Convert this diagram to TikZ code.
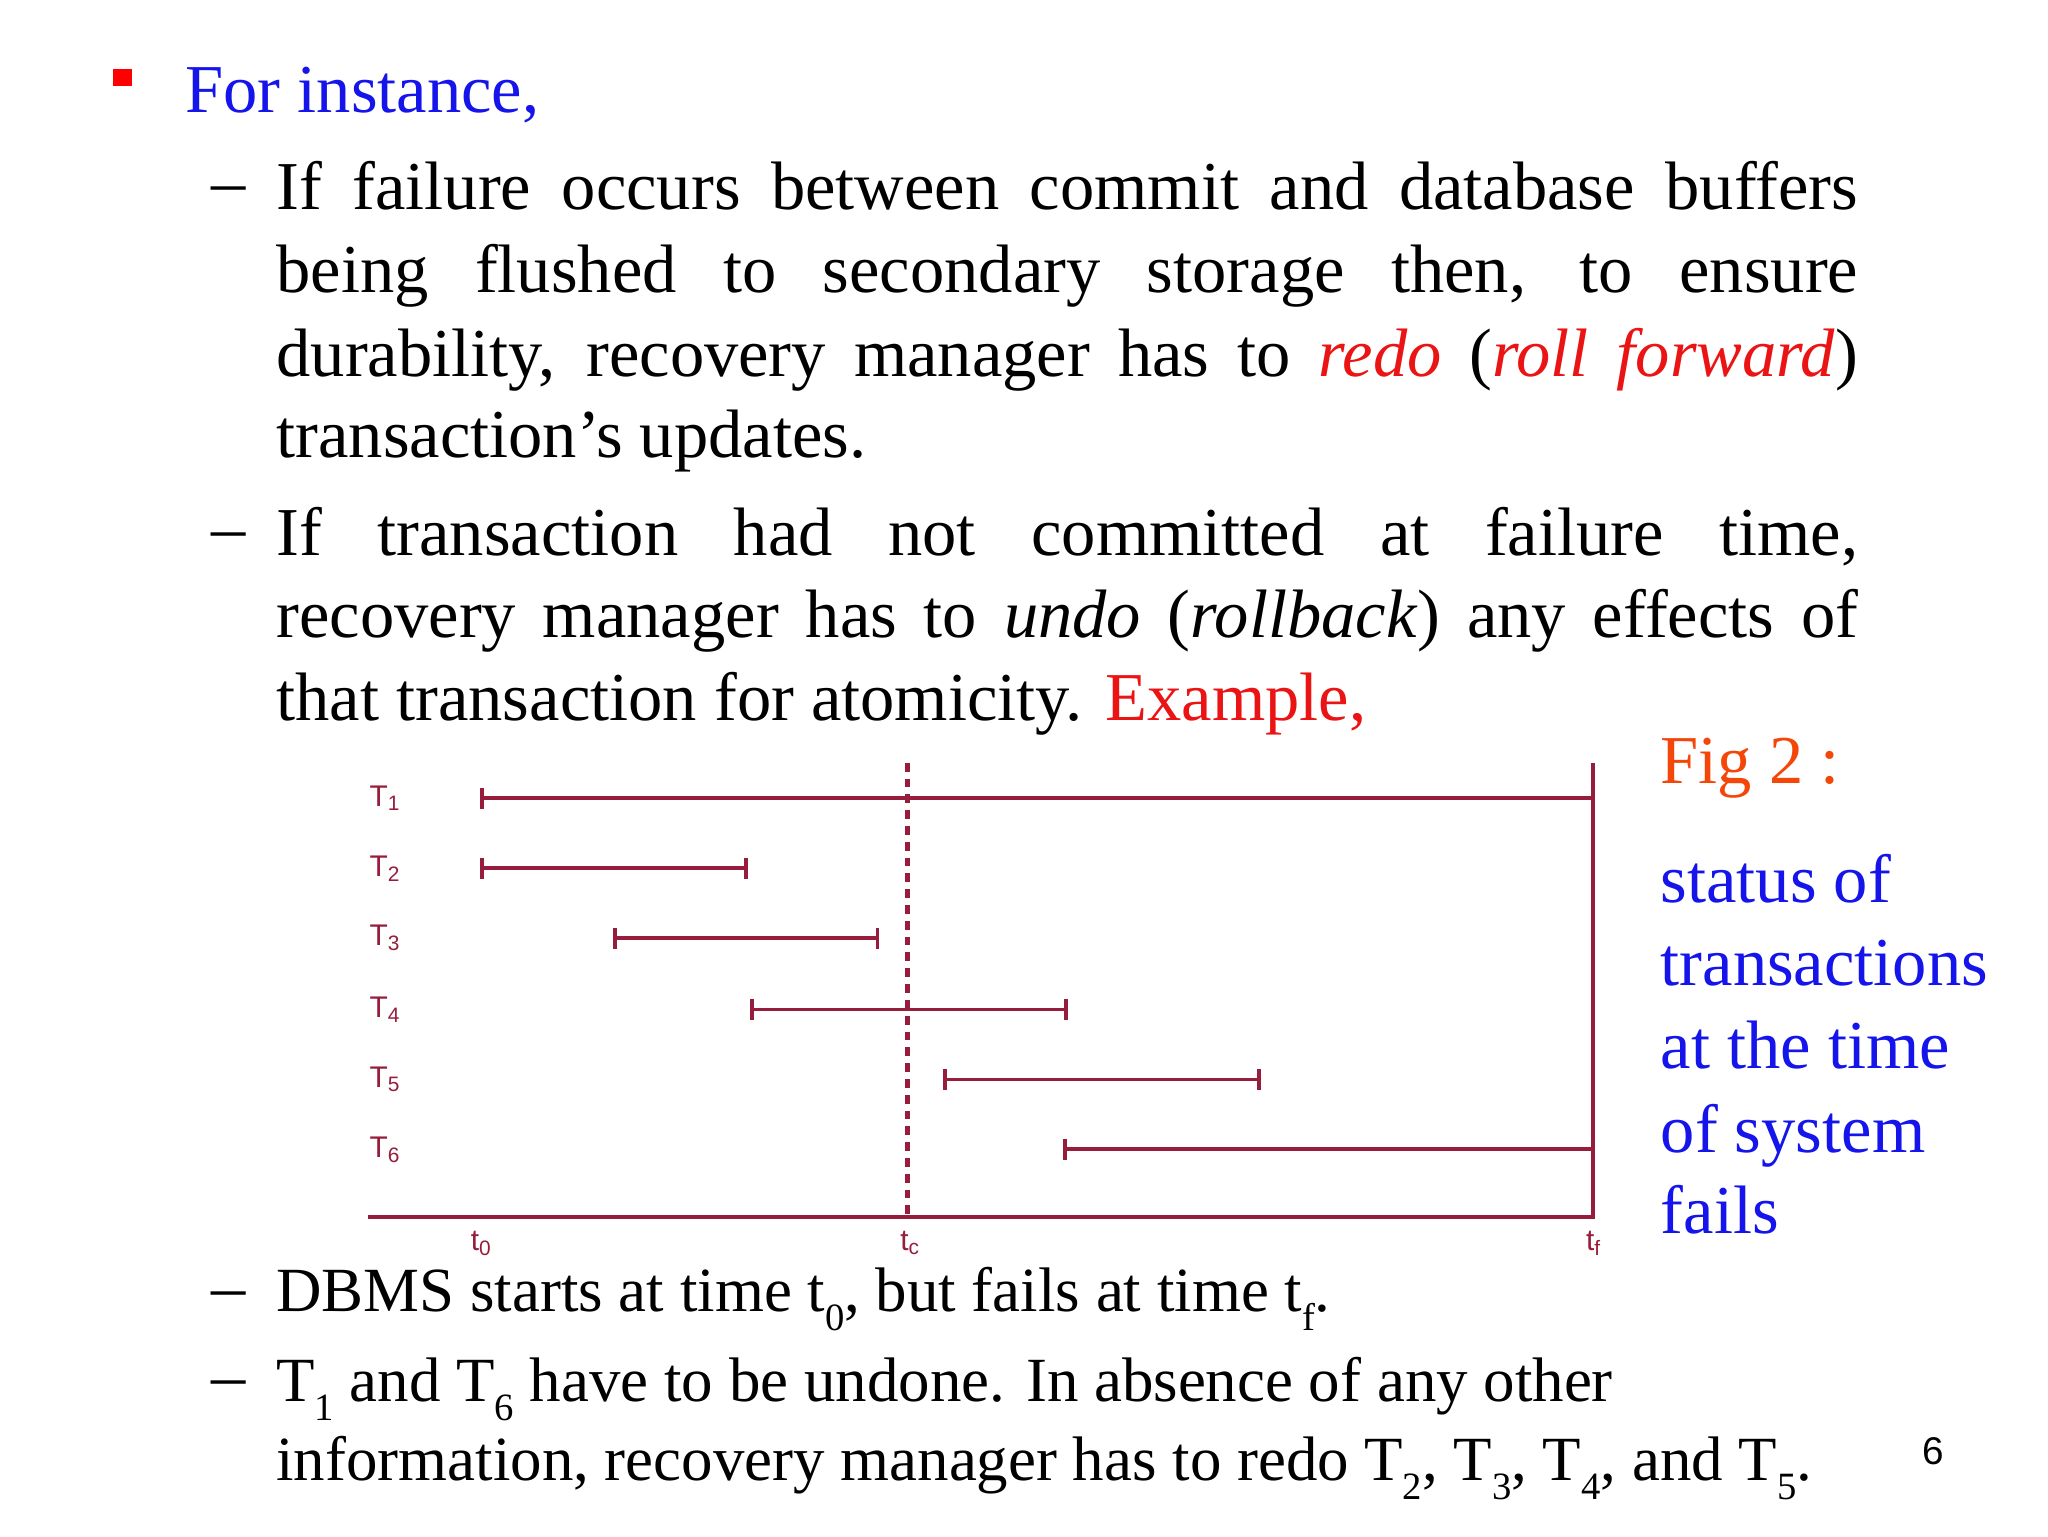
\documentclass[tikz,border=0pt]{standalone}
\usepackage{fontspec}
\setmainfont{Liberation Serif}
\setsansfont{Liberation Sans}
\definecolor{maroon}{RGB}{150,30,60}
\definecolor{myblue}{RGB}{20,20,235}
\definecolor{myred}{RGB}{235,20,20}
\definecolor{myorange}{RGB}{245,70,10}
\newcommand{\jl}[1]{\makebox[15.82cm][s]{#1}}
\newcommand{\sbs}[1]{\raisebox{-0.3em}{\fontsize{11}{12}\selectfont #1}}
\begin{document}
\begin{tikzpicture}[x=0.013196cm,y=-0.013196cm,
  txt/.style={anchor=base west,inner sep=0pt,font=\fontsize{19.5}{23}\selectfont},
  txs/.style={anchor=base west,inner sep=0pt,font=\fontsize{17.9}{21}\selectfont},
  lab/.style={inner sep=0pt,font=\sffamily\fontsize{8.5}{10}\selectfont,text=maroon},
  bar/.style={draw=maroon,line width=1.1pt},
  tick/.style={draw=maroon,line width=1.1pt}]
\useasboundingbox (0,0) rectangle (1552,1164);
\fill[red] (86,52) rectangle (100,65) coordinate (bsq);
\node[txt,text=myblue] (l0) at (140,85) {For instance,};
\foreach \y/\n in {143/d1,405/d2,980/d3,1048/d4}{\node[txt] (\n) at (160,\y+12) {--};}
\node[txt] (a1) at (209,159) {\jl{If failure occurs between commit and database buffers}};
\node[txt] (a2) at (209,222) {\jl{being flushed to secondary storage then, to ensure}};
\node[txt] (a3) at (209,285) {\jl{durability, recovery manager has to \textcolor{myred}{\textit{redo}} (\textcolor{myred}{\textit{roll forward}})}};
\node[txt] (a4) at (209,347) {transaction’s updates.};
\node[txt] (b1) at (209,421) {\jl{If transaction had not committed at failure time,}};
\node[txt] (b2) at (209,483) {\jl{recovery manager has to \textit{undo} (\textit{rollback}) any effects of}};
\node[txt] (b3) at (209,546) {that transaction for atomicity. \textcolor{myred}{Example,}};
\node[txs] (c1) at (209,994) {DBMS starts at time t\sbs{0}, but fails at time t\sbs{f}.};
\node[txs] (c2) at (209,1062) {T\sbs{1} and T\sbs{6} have to be undone. In absence of any other};
\node[txs] (c3) at (209,1122) {information, recovery manager has to redo T\sbs{2}, T\sbs{3}, T\sbs{4}, and T\sbs{5}.};
\node[anchor=base,inner sep=0pt,font=\sffamily\fontsize{11}{13}\selectfont] (pg) at (1465,1110) {6};
% figure caption
\node[txt,text=myorange] (f0) at (1258,594) {Fig 2 :};
\foreach \y/\t [count=\i] in {684/status of,747/transactions,810/at the time,873/of system,935/fails}
  \node[txt,text=myblue] (g\i) at (1258,\y) {\t};
% chart
\coordinate (ax0) at (279,922); \coordinate (ax1) at (1207,922);
\coordinate (vt) at (1207,578);
\draw[bar] (ax0) -- (ax1) -- (vt);
\coordinate (dt) at (688,578); \coordinate (db) at (688,922);
\draw[maroon,line width=1.4pt,dash pattern=on 2.5pt off 2pt] (dt) -- (db);
\foreach \i/\y/\a/\b/\e in {1/605/365/1207/0,2/658/365/565/1,3/711/466/665/1,4/765/570/808/1,5/818/716/954/1,6/871/807/1207/0}{
  \node[lab] (T\i) at (292,\y) {T\textsubscript{\i}};
  \coordinate (s\i) at (\a,\y); \coordinate (e\i) at (\b,\y);
  \draw[bar] (s\i) -- (e\i);
  \draw[tick] (\a,\y-8) -- (\a,\y+8);
  \ifnum\e=1 \draw[tick] (\b,\y-8) -- (\b,\y+8); \fi
}
\node[lab] (t0) at (365,942) {t\textsubscript{0}};
\node[lab] (tc) at (690,942) {t\textsubscript{c}};
\node[lab] (tf) at (1208,942) {t\textsubscript{f}};
\end{tikzpicture}
\end{document}
